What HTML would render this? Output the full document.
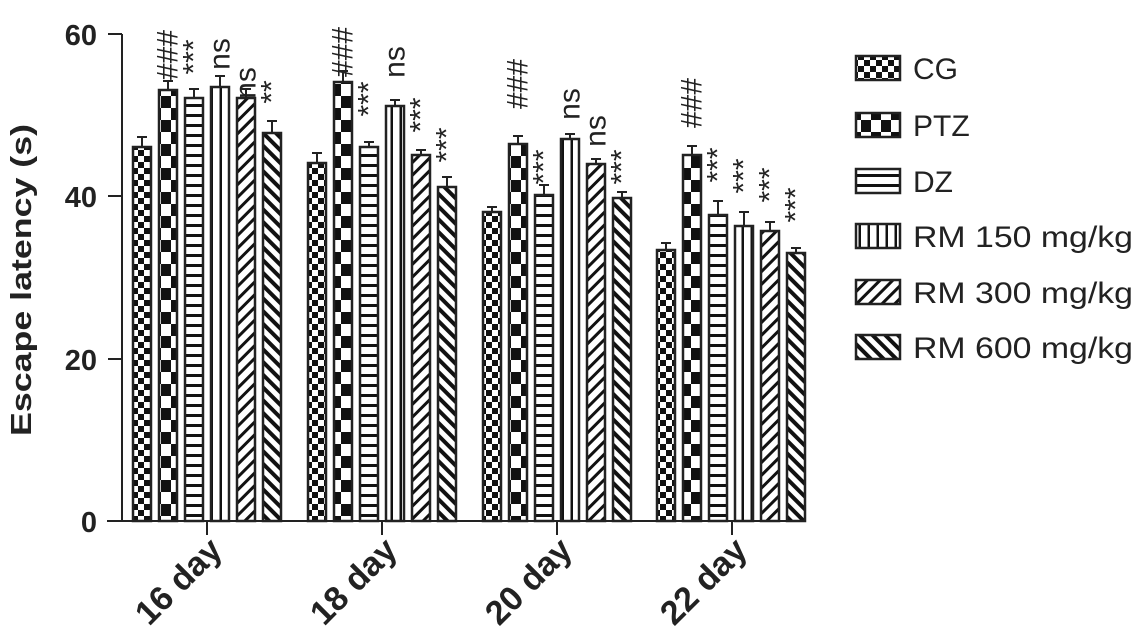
<!DOCTYPE html>
<html><head><meta charset="utf-8"><style>
html,body{margin:0;padding:0;background:#fff;}
svg{display:block;font-family:"Liberation Sans",Arial,sans-serif;}
</style></head><body>
<svg width="1135" height="637" viewBox="0 0 1135 637" xmlns="http://www.w3.org/2000/svg">
<defs>
<pattern id="cg" patternUnits="userSpaceOnUse" width="12" height="12"><rect width="12" height="12" fill="#fff"/><rect width="6" height="6" fill="#111"/><rect x="6" y="6" width="6" height="6" fill="#111"/></pattern>
<pattern id="ptz" patternUnits="userSpaceOnUse" width="20" height="24" x="1"><rect width="20" height="24" fill="#fff"/><rect width="10" height="12" fill="#111"/><rect x="10" y="12" width="10" height="12" fill="#111"/></pattern>
<pattern id="dz" patternUnits="userSpaceOnUse" width="10" height="10"><rect width="10" height="10" fill="#fff"/><rect y="4" width="10" height="3" fill="#111"/></pattern>
<pattern id="r150" patternUnits="userSpaceOnUse" width="9" height="10"><rect width="9" height="10" fill="#fff"/><rect x="3.5" width="2.5" height="10" fill="#111"/></pattern>
<pattern id="r300" patternUnits="userSpaceOnUse" width="9" height="9" patternTransform="rotate(45)"><rect width="9" height="9" fill="#fff"/><rect width="3" height="9" fill="#111"/></pattern>
<pattern id="r600" patternUnits="userSpaceOnUse" width="9" height="9" patternTransform="rotate(-45)"><rect width="9" height="9" fill="#fff"/><rect width="4" height="9" fill="#111"/></pattern>
</defs>

<g stroke="#222" stroke-width="2" fill="none">
<line x1="122" y1="34" x2="122" y2="521"/>
<line x1="107" y1="521" x2="790" y2="521"/>
<line x1="108" y1="34" x2="122" y2="34"/>
<line x1="108" y1="196" x2="122" y2="196"/>
<line x1="108" y1="359" x2="122" y2="359"/>
<line x1="108" y1="521" x2="122" y2="521"/>
<line x1="207" y1="521" x2="207" y2="535"/>
<line x1="382" y1="521" x2="382" y2="535"/>
<line x1="557" y1="521" x2="557" y2="535"/>
<line x1="732" y1="521" x2="732" y2="535"/>
</g>
<g font-size="29" font-weight="bold" text-anchor="end" fill="#222">
<text x="97" y="45">60</text>
<text x="97" y="207">40</text>
<text x="97" y="370">20</text>
<text x="97" y="532">0</text>
</g>
<text transform="translate(31,280) rotate(-90)" font-size="29" font-weight="bold" text-anchor="middle" fill="#222" textLength="312" lengthAdjust="spacingAndGlyphs">Escape latency (s)</text>
<g font-size="34" font-weight="bold" text-anchor="end" fill="#222">
<text transform="translate(224,552) rotate(-45)">16 day</text>
<text transform="translate(399,552) rotate(-45)">18 day</text>
<text transform="translate(574,552) rotate(-45)">20 day</text>
<text transform="translate(749,552) rotate(-45)">22 day</text>
</g>

<g stroke="#222" stroke-width="2.5">
<rect x="133" y="147" width="18" height="374" fill="url(#cg)"/>
<rect x="159" y="90" width="18" height="431" fill="url(#ptz)"/>
<rect x="185" y="98" width="18" height="423" fill="url(#dz)"/>
<rect x="211" y="87" width="18" height="434" fill="url(#r150)"/>
<rect x="237" y="98" width="18" height="423" fill="url(#r300)"/>
<rect x="263" y="133" width="18" height="388" fill="url(#r600)"/>
<rect x="308" y="163" width="18" height="358" fill="url(#cg)"/>
<rect x="334" y="82" width="18" height="439" fill="url(#ptz)"/>
<rect x="360" y="147" width="18" height="374" fill="url(#dz)"/>
<rect x="386" y="106" width="18" height="415" fill="url(#r150)"/>
<rect x="412" y="155" width="18" height="366" fill="url(#r300)"/>
<rect x="438" y="187" width="18" height="334" fill="url(#r600)"/>
<rect x="483" y="212" width="18" height="309" fill="url(#cg)"/>
<rect x="509" y="144" width="18" height="377" fill="url(#ptz)"/>
<rect x="535" y="195" width="18" height="326" fill="url(#dz)"/>
<rect x="561" y="139" width="18" height="382" fill="url(#r150)"/>
<rect x="587" y="164" width="18" height="357" fill="url(#r300)"/>
<rect x="613" y="198" width="18" height="323" fill="url(#r600)"/>
<rect x="657" y="250" width="18" height="271" fill="url(#cg)"/>
<rect x="683" y="155" width="18" height="366" fill="url(#ptz)"/>
<rect x="709" y="215" width="18" height="306" fill="url(#dz)"/>
<rect x="735" y="226" width="18" height="295" fill="url(#r150)"/>
<rect x="761" y="231" width="18" height="290" fill="url(#r300)"/>
<rect x="787" y="253" width="18" height="268" fill="url(#r600)"/>
</g>
<g stroke="#222" stroke-width="2" fill="none">
<path d="M142 147V137M137 137H147 M168 90V81M163 81H173 M194 98V89M189 89H199 M220 87V76M215 76H225 M246 98V89M241 89H251 M272 133V121M267 121H277"/>
<path d="M317 163V153M312 153H322 M343 82V71M338 71H348 M369 147V142M364 142H374 M395 106V100M390 100H400 M421 155V150M416 150H426 M447 187V177M442 177H452"/>
<path d="M492 212V207M487 207H497 M518 144V136M513 136H523 M544 195V185M539 185H549 M570 139V134M565 134H575 M596 164V159M591 159H601 M622 198V192M617 192H627"/>
<path d="M666 250V243M661 243H671 M692 155V146M687 146H697 M718 215V201M713 201H723 M744 226V212M739 212H749 M770 231V222M765 222H775 M796 253V248M791 248H801"/>
</g>
<g font-size="30" fill="#222" dominant-baseline="central" text-anchor="middle">
<text transform="translate(168,55) rotate(-90)">###</text>
<text transform="translate(194,57) rotate(-90)">***</text>
<text transform="translate(220,54) rotate(-90)">ns</text>
<text transform="translate(246,83) rotate(-90)">ns</text>
<text transform="translate(272,92) rotate(-90)">**</text>

<text transform="translate(343,52) rotate(-90)">###</text>
<text transform="translate(369,99) rotate(-90)">***</text>
<text transform="translate(395,62) rotate(-90)">ns</text>
<text transform="translate(421,115) rotate(-90)">***</text>
<text transform="translate(447,145) rotate(-90)">***</text>

<text transform="translate(518,84) rotate(-90)">###</text>
<text transform="translate(544,167) rotate(-90)">***</text>
<text transform="translate(570,104) rotate(-90)">ns</text>
<text transform="translate(596,131) rotate(-90)">ns</text>
<text transform="translate(622,167) rotate(-90)">***</text>

<text transform="translate(692,103) rotate(-90)">###</text>
<text transform="translate(718,165) rotate(-90)">***</text>
<text transform="translate(744,176) rotate(-90)">***</text>
<text transform="translate(770,185) rotate(-90)">***</text>
<text transform="translate(796,205) rotate(-90)">***</text>
</g>
<g stroke="#222" stroke-width="2.5">
<rect x="856" y="56" width="44" height="24" fill="url(#cg)"/>
<rect x="856" y="113" width="44" height="24" fill="url(#ptz)"/>
<rect x="856" y="169" width="44" height="24" fill="url(#dz)"/>
<rect x="856" y="224" width="44" height="24" fill="url(#r150)"/>
<rect x="856" y="280" width="44" height="24" fill="url(#r300)"/>
<rect x="856" y="335" width="44" height="24" fill="url(#r600)"/>
</g>
<g font-size="30" fill="#222">
<text x="913" y="79">CG</text>
<text x="913" y="136">PTZ</text>
<text x="913" y="192">DZ</text>
<text x="913" y="247" textLength="220" lengthAdjust="spacingAndGlyphs">RM 150 mg/kg</text>
<text x="913" y="303" textLength="220" lengthAdjust="spacingAndGlyphs">RM 300 mg/kg</text>
<text x="913" y="358" textLength="220" lengthAdjust="spacingAndGlyphs">RM 600 mg/kg</text>
</g>
</svg>
</body></html>
